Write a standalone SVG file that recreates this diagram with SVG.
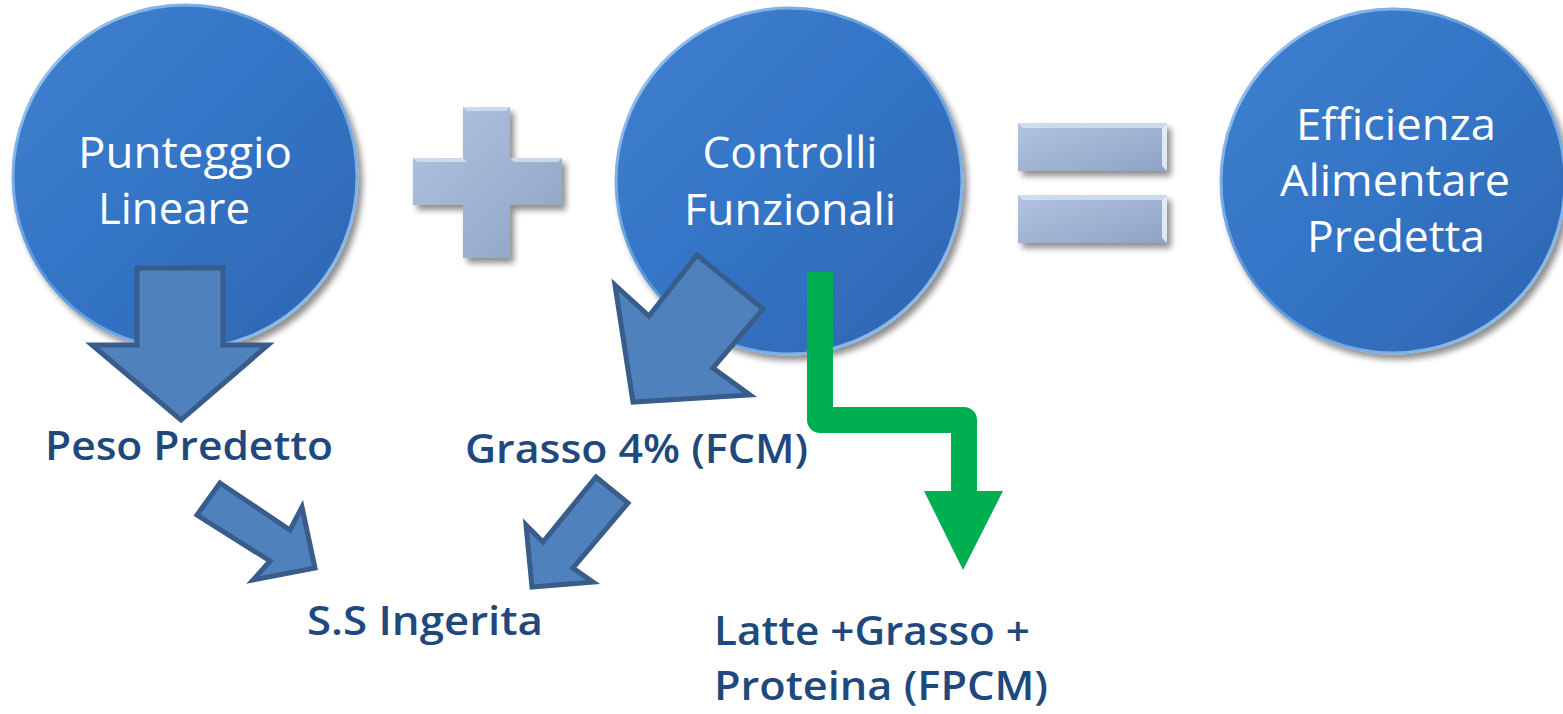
<svg xmlns="http://www.w3.org/2000/svg" width="1563" height="714" viewBox="0 0 1563 714">
<style>
.ct{font-family:"Open Sans","Liberation Sans",sans-serif;font-size:43px;fill:#ffffff;text-anchor:middle}
.lb{font-family:"Open Sans","Liberation Sans",sans-serif;font-weight:600;font-size:39px;fill:#1f497d}
.blk{fill:#4f81bd;stroke:#385d8a;stroke-width:5;stroke-linejoin:miter}
.op{fill:url(#opg);filter:url(#sh)}
</style>
<defs>
<linearGradient id="cg" x1="0" y1="0" x2="1" y2="1">
<stop offset="0" stop-color="#3f80cf"/>
<stop offset="0.5" stop-color="#3474c6"/>
<stop offset="1" stop-color="#2d66b0"/>
</linearGradient>
<linearGradient id="rim" x1="0" y1="0" x2="1" y2="1">
<stop offset="0" stop-color="#a9d0f5"/>
<stop offset="0.45" stop-color="#5a95d8"/>
<stop offset="1" stop-color="#9cc8f0"/>
</linearGradient>
<linearGradient id="opg" x1="0" y1="0" x2="1" y2="1">
<stop offset="0" stop-color="#b2c4e0"/>
<stop offset="1" stop-color="#8ea3c4"/>
</linearGradient>
<filter id="sh" x="-20%" y="-20%" width="150%" height="150%">
<feGaussianBlur in="SourceAlpha" stdDeviation="3"/>
<feOffset dx="4" dy="5" result="b"/>
<feComponentTransfer><feFuncA type="linear" slope="0.45"/></feComponentTransfer>
<feMerge><feMergeNode/><feMergeNode in="SourceGraphic"/></feMerge>
</filter>
</defs>

<g id="node-punteggio">
<circle cx="185" cy="177" r="172" fill="url(#cg)" stroke="url(#rim)" stroke-width="3" filter="url(#sh)"/>
<text class="ct" x="185" y="168" textLength="214" lengthAdjust="spacingAndGlyphs">Punteggio</text>
<text class="ct" x="174" y="224" textLength="152" lengthAdjust="spacingAndGlyphs">Lineare</text>
</g>

<g id="node-controlli">
<circle cx="789" cy="181" r="173" fill="url(#cg)" stroke="url(#rim)" stroke-width="3" filter="url(#sh)"/>
<text class="ct" x="790" y="168" textLength="175" lengthAdjust="spacingAndGlyphs">Controlli</text>
<text class="ct" x="790" y="225" textLength="212" lengthAdjust="spacingAndGlyphs">Funzionali</text>
</g>

<g id="node-efficienza">
<circle cx="1393" cy="181" r="172" fill="url(#cg)" stroke="url(#rim)" stroke-width="3" filter="url(#sh)"/>
<text class="ct" x="1396" y="140" textLength="200" lengthAdjust="spacingAndGlyphs">Efficienza</text>
<text class="ct" x="1395" y="196" textLength="230" lengthAdjust="spacingAndGlyphs">Alimentare</text>
<text class="ct" x="1396" y="252" textLength="178" lengthAdjust="spacingAndGlyphs">Predetta</text>
</g>

<g id="op-plus">
<path class="op" d="M463,107 H510 V158 H562 V205 H510 V258 H463 V205 H413 V158 H463 Z"/>
<path d="M463,107 H510 L506,111 H467 Z M413,158 H463 L467,162 H417 Z M510,158 H562 L558,162 H514 Z" fill="#d6e2f2" opacity="0.8"/>
</g>

<g id="op-equals">
<rect class="op" x="1018" y="123" width="149" height="48"/>
<rect class="op" x="1018" y="195" width="149" height="48"/>
<path d="M1018,123 H1167 L1162,128 H1023 Z M1018,195 H1167 L1162,200 H1023 Z" fill="#d6e2f2" opacity="0.8"/>
<path d="M1167,123 V171 L1162,166 V128 Z M1167,195 V243 L1162,238 V200 Z" fill="#e8f0fa" opacity="0.9"/>
</g>

<g id="labels">
<text class="lb" x="45" y="460" textLength="288" lengthAdjust="spacingAndGlyphs">Peso Predetto</text>
<text class="lb" x="465" y="463" textLength="343" lengthAdjust="spacingAndGlyphs">Grasso 4% (FCM)</text>
<text class="lb" x="307" y="635" textLength="236" lengthAdjust="spacingAndGlyphs">S.S Ingerita</text>
<text class="lb" x="714" y="645" textLength="316" lengthAdjust="spacingAndGlyphs">Latte +Grasso +</text>
<text class="lb" x="714" y="700" textLength="334" lengthAdjust="spacingAndGlyphs">Proteina (FPCM)</text>
</g>

<g id="connectors">
<polygon class="blk" points="137,268 223,268 223,345 268,345 181,420 92,345 137,345"/>
<polygon class="blk" points="697,255 763,309 713,368 750,395 633,402 615,285 649,316"/>
<polygon class="blk" points="220,483 290,530 302,507 315,568 253,580 270,561 197,515"/>
<polygon class="blk" points="596,477 628,503 573,568 593,582 532,587 526,525 543,542"/>
<polyline points="820,272 820,420 964,420 964,492" fill="none" stroke="#00b050" stroke-width="26" stroke-linejoin="round"/>
<polygon points="924,491 1003,491 963,570" fill="#00b050"/>
</g>
</svg>
